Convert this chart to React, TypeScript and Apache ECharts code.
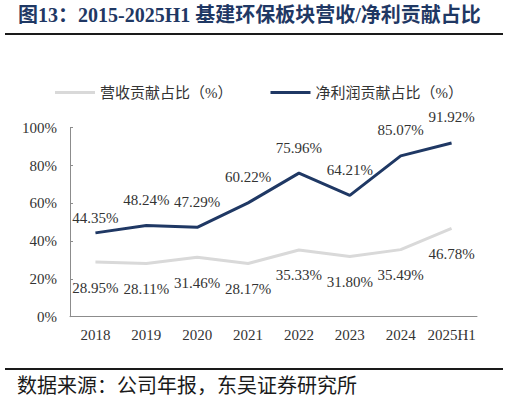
import React, { useEffect, useRef } from "react";
import * as echarts from "echarts";

const categories = ["2018", "2019", "2020", "2021", "2022", "2023", "2024", "2025H1"];
const revenueShare = [28.95, 28.11, 31.46, 28.17, 35.33, 31.8, 35.49, 46.78];
const profitShare = [44.35, 48.24, 47.29, 60.22, 75.96, 64.21, 85.07, 91.92];
const revenueName = "营收贡献占比（%）";
const profitName = "净利润贡献占比（%）";
const titleText = "图13：2015-2025H1 基建环保板块营收/净利贡献占比";
const sourceText = "数据来源：公司年报，东吴证券研究所";
const profitLabelDistance = [7, 18, 18, 18, 18, 18, 18, 18];

const SERIF = "'Times New Roman', 'Liberation Serif', 'Noto Sans CJK SC', serif";

export default function App() {
  const ref = useRef<HTMLDivElement>(null);
  useEffect(() => {
    if (!ref.current) return;
    const chart = echarts.init(ref.current, undefined, { renderer: "svg" });
    const labelStyle = {
      show: true,
      fontFamily: SERIF,
      fontSize: 15,
      color: "#333333",
      formatter: (p: any) => Number(p.value).toFixed(2) + "%",
    };
    chart.setOption({
      animation: false,
      backgroundColor: "#ffffff",
      textStyle: { fontFamily: SERIF },
      legend: {
        top: 80,
        left: 50,
        itemWidth: 40,
        itemHeight: 3,
        itemGap: 38,
        icon: "rect",
        textStyle: { fontFamily: SERIF, fontSize: 15, color: "#333333" },
        data: [revenueName, profitName],
      },
      grid: { left: 70, right: 32, top: 127.7, bottom: 86.3, containLabel: false },
      xAxis: {
        type: "category",
        data: categories,
        boundaryGap: true,
        axisLine: { lineStyle: { color: "#8c8c8c", width: 1 } },
        axisTick: { inside: true, length: 4, interval: 0, lineStyle: { color: "#8c8c8c" } },
        axisLabel: { margin: 11, interval: 0, fontFamily: SERIF, fontSize: 15, color: "#333333" },
      },
      yAxis: {
        type: "value",
        min: 0,
        max: 100,
        interval: 20,
        axisLine: { show: true, lineStyle: { color: "#8c8c8c", width: 1 } },
        axisTick: { show: true, inside: true, length: 3, lineStyle: { color: "#8c8c8c" } },
        splitLine: { show: false },
        axisLabel: {
          margin: 13,
          fontFamily: SERIF,
          fontSize: 15,
          color: "#333333",
          formatter: "{value}%",
        },
      },
      series: [
        {
          name: revenueName,
          type: "line",
          data: revenueShare,
          showSymbol: true,
          symbol: "circle",
          symbolSize: 0.1,
          lineStyle: { color: "#d9d9d9", width: 3 },
          itemStyle: { color: "#d9d9d9" },
          label: { ...labelStyle, position: "bottom", distance: 18 },
          z: 2,
        },
        {
          name: profitName,
          type: "line",
          data: profitShare.map((v, i) => ({
            value: v,
            label: { distance: profitLabelDistance[i] },
          })),
          showSymbol: true,
          symbol: "circle",
          symbolSize: 0.1,
          lineStyle: { color: "#1f3864", width: 3 },
          itemStyle: { color: "#1f3864" },
          label: { ...labelStyle, position: "top", distance: 18 },
          z: 3,
        },
      ],
      graphic: [
        {
          type: "text",
          left: 18,
          top: 5,
          style: {
            text: titleText,
            fontFamily: SERIF,
            fontSize: 20,
            fontWeight: "bold",
            fill: "#1f3864",
          },
        },
        {
          type: "line",
          shape: { x1: 5, y1: 34, x2: 503, y2: 34 },
          style: { stroke: "#1a1a1a", lineWidth: 2 },
        },
        {
          type: "line",
          shape: { x1: 5, y1: 369, x2: 503, y2: 369 },
          style: { stroke: "#1a1a1a", lineWidth: 2 },
        },
        {
          type: "text",
          left: 17,
          top: 376,
          style: {
            text: sourceText,
            fontFamily: SERIF,
            fontSize: 20,
            fill: "#1a1a1a",
          },
        },
      ],
    });
    return () => chart.dispose();
  }, []);
  return (
    <div
      ref={ref}
      style={{ position: "absolute", left: 0, top: 0, width: 509, height: 403 }}
    />
  );
}
